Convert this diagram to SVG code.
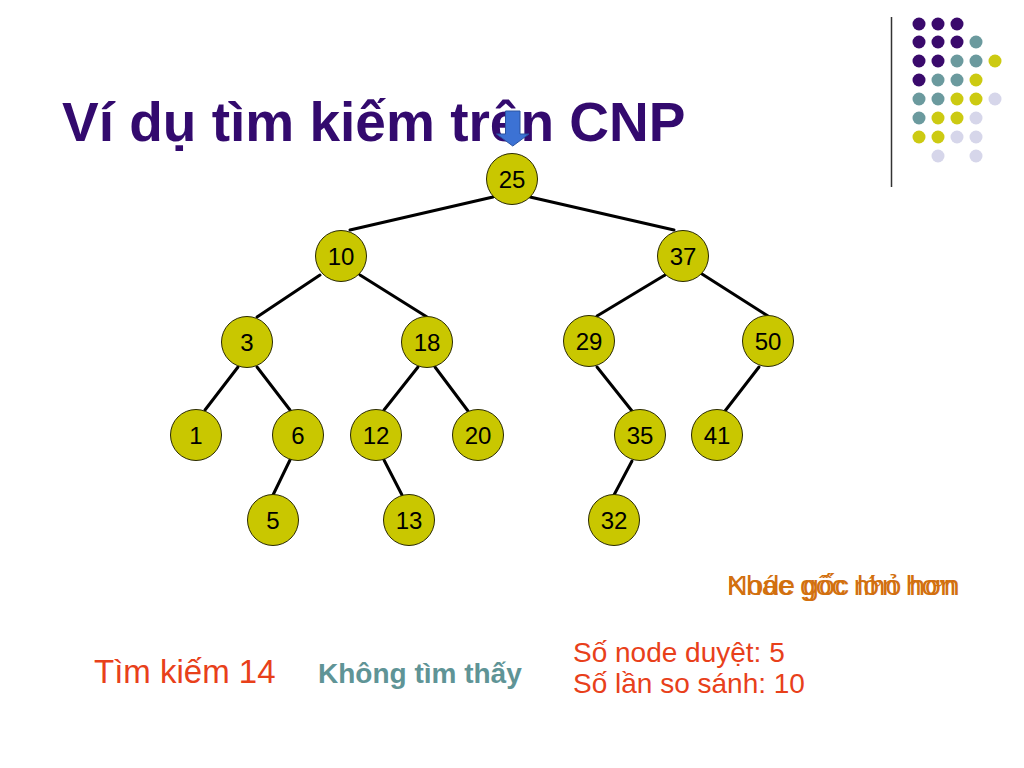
<svg xmlns="http://www.w3.org/2000/svg" width="1024" height="768" viewBox="0 0 1024 768">
<style>
.edge{stroke:#000;stroke-width:3;stroke-linecap:round}
.node circle{fill:#C9C700;stroke:#2a2a00;stroke-width:1}
.node text{font-family:"Liberation Sans",Arial,sans-serif;font-size:24px;fill:#000;text-anchor:middle}
.dp{fill:#3A0A6C}.dt{fill:#6B9A9E}.dy{fill:#CCCA12}.dl{fill:#D6D6EA}
.t{font-family:"Liberation Sans",Arial,sans-serif}
</style>
<rect width="1024" height="768" fill="#fff"/>
<g id="decor">
<line x1="891.5" y1="17" x2="891.5" y2="187" stroke="#333" stroke-width="1.5"/>
<circle class="dp" cx="919" cy="24" r="6.5"/><circle class="dp" cx="938" cy="24" r="6.5"/><circle class="dp" cx="957" cy="24" r="6.5"/>
<circle class="dp" cx="919" cy="42" r="6.5"/><circle class="dp" cx="938" cy="42" r="6.5"/><circle class="dp" cx="957" cy="42" r="6.5"/><circle class="dt" cx="976" cy="42" r="6.5"/>
<circle class="dp" cx="919" cy="61" r="6.5"/><circle class="dp" cx="938" cy="61" r="6.5"/><circle class="dt" cx="957" cy="61" r="6.5"/><circle class="dt" cx="976" cy="61" r="6.5"/><circle class="dy" cx="995" cy="61" r="6.5"/>
<circle class="dp" cx="919" cy="80" r="6.5"/><circle class="dt" cx="938" cy="80" r="6.5"/><circle class="dt" cx="957" cy="80" r="6.5"/><circle class="dy" cx="976" cy="80" r="6.5"/>
<circle class="dt" cx="919" cy="99" r="6.5"/><circle class="dt" cx="938" cy="99" r="6.5"/><circle class="dy" cx="957" cy="99" r="6.5"/><circle class="dy" cx="976" cy="99" r="6.5"/><circle class="dl" cx="995" cy="99" r="6.5"/>
<circle class="dt" cx="919" cy="118" r="6.5"/><circle class="dy" cx="938" cy="118" r="6.5"/><circle class="dy" cx="957" cy="118" r="6.5"/><circle class="dl" cx="976" cy="118" r="6.5"/>
<circle class="dy" cx="919" cy="137" r="6.5"/><circle class="dy" cx="938" cy="137" r="6.5"/><circle class="dl" cx="957" cy="137" r="6.5"/><circle class="dl" cx="976" cy="137" r="6.5"/>
<circle class="dl" cx="938" cy="156" r="6.5"/><circle class="dl" cx="976" cy="156" r="6.5"/>
</g>
<text id="title" class="t" x="62" y="141" font-size="55" font-weight="bold" fill="#330A6E">Ví dụ tìm kiếm trên CNP</text>
<g id="connectors">
<line class="edge" x1="493" y1="197" x2="350" y2="230"/>
<line class="edge" x1="530" y1="197" x2="674" y2="230"/>
<line class="edge" x1="320" y1="275" x2="257" y2="317"/>
<line class="edge" x1="360" y1="275" x2="427" y2="317"/>
<line class="edge" x1="665" y1="275" x2="597" y2="316"/>
<line class="edge" x1="702" y1="274" x2="768" y2="316"/>
<line class="edge" x1="238" y1="367" x2="205" y2="410"/>
<line class="edge" x1="257" y1="367" x2="290" y2="410"/>
<line class="edge" x1="418" y1="367" x2="384" y2="410"/>
<line class="edge" x1="435" y1="367" x2="468" y2="411"/>
<line class="edge" x1="597" y1="367" x2="632" y2="411"/>
<line class="edge" x1="759" y1="367" x2="725" y2="411"/>
<line class="edge" x1="290" y1="460" x2="273" y2="495"/>
<line class="edge" x1="384" y1="460" x2="402" y2="495"/>
<line class="edge" x1="632" y1="461" x2="614" y2="495"/>
</g>
<g id="n25" class="node"><circle cx="512" cy="179" r="25.5"/><text x="512" y="188">25</text></g>
<g id="n10" class="node"><circle cx="341" cy="256" r="25.5"/><text x="341" y="265">10</text></g>
<g id="n37" class="node"><circle cx="683" cy="256" r="25.5"/><text x="683" y="265">37</text></g>
<g id="n3" class="node"><circle cx="247" cy="342" r="25.5"/><text x="247" y="351">3</text></g>
<g id="n18" class="node"><circle cx="427" cy="342" r="25.5"/><text x="427" y="351">18</text></g>
<g id="n29" class="node"><circle cx="589" cy="341" r="25.5"/><text x="589" y="350">29</text></g>
<g id="n50" class="node"><circle cx="768" cy="341" r="25.5"/><text x="768" y="350">50</text></g>
<g id="n1" class="node"><circle cx="196" cy="435" r="25.5"/><text x="196" y="444">1</text></g>
<g id="n6" class="node"><circle cx="298" cy="435" r="25.5"/><text x="298" y="444">6</text></g>
<g id="n12" class="node"><circle cx="376" cy="435" r="25.5"/><text x="376" y="444">12</text></g>
<g id="n20" class="node"><circle cx="478" cy="435" r="25.5"/><text x="478" y="444">20</text></g>
<g id="n35" class="node"><circle cx="640" cy="435" r="25.5"/><text x="640" y="444">35</text></g>
<g id="n41" class="node"><circle cx="717" cy="435" r="25.5"/><text x="717" y="444">41</text></g>
<g id="n5" class="node"><circle cx="273" cy="520" r="25.5"/><text x="273" y="529">5</text></g>
<g id="n13" class="node"><circle cx="409" cy="520" r="25.5"/><text x="409" y="529">13</text></g>
<g id="n32" class="node"><circle cx="614" cy="520" r="25.5"/><text x="614" y="529">32</text></g>
<g id="pointer">
<path d="M505.5,111 H520 V134 H529 L512.75,146 L496.5,134 H505.5 Z" fill="#3C72D4" stroke="#2A52A0" stroke-width="1"/>
</g>
<g id="notes" class="t">
<text x="727" y="595" font-size="28.5" fill="#D2700F">Khác gốc nhỏ hơn</text>
<text x="727" y="595" font-size="28.5" fill="#D2700F">Node gốc lớn hơn</text>
<text x="94" y="683" font-size="33" fill="#E8401A">Tìm kiếm 14</text>
<text x="318" y="683" font-size="28" font-weight="bold" fill="#5F9496">Không tìm thấy</text>
<text x="573" y="662" font-size="28" fill="#E8401A">Số node duyệt: 5</text>
<text x="573" y="693" font-size="28" fill="#E8401A">Số lần so sánh: 10</text>
</g>
</svg>
